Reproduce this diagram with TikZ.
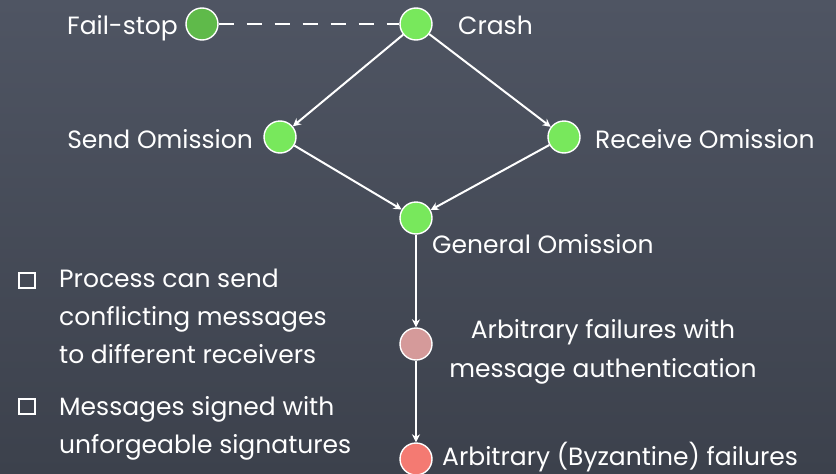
\documentclass[tikz,border=0pt]{standalone}
\usepackage{fontspec}
\setmainfont{Poppins}
\usetikzlibrary{arrows.meta}
\definecolor{boardtop}{HTML}{4F5563}
\definecolor{boardbot}{HTML}{3C414C}
\definecolor{darkgreen}{HTML}{5FBA4A}
\definecolor{litegreen}{HTML}{78E85C}
\definecolor{rosepink}{HTML}{D59A9A}
\definecolor{salmon}{HTML}{F47A72}
\tikzset{
  state/.style={circle, draw=white, line width=1.4pt, minimum size=32pt, inner sep=0pt},
  lbl/.style={text=white, font=\fontsize{25}{25}\selectfont, inner sep=0pt},
  link/.style={draw=white, line width=2pt, -{Stealth[length=8pt,width=8pt]}},
  chalkbox/.style={draw=white, line width=1.6pt},
}
\begin{document}
\begin{tikzpicture}[x=1pt,y=-1pt]
  % chalkboard
  \shade[top color=boardtop, bottom color=boardbot] (0,0) rectangle (836,474);
  \useasboundingbox (0,0) rectangle (836,474);

  % failure-model states
  \node[state, fill=darkgreen] (fs)   at (202,24)  {};
  \node[state, fill=litegreen] (cr)   at (416,24)  {};
  \node[state, fill=litegreen] (so)   at (280,137) {};
  \node[state, fill=litegreen] (ro)   at (564,137) {};
  \node[state, fill=litegreen] (go)   at (416,218) {};
  \node[state, fill=rosepink]  (auth) at (416,344) {};
  \node[state, fill=salmon]    (byz)  at (416,459) {};

  % labels
  \node[lbl, anchor=base east] (tfs) at (178,34)  {Fail-stop};
  \node[lbl, anchor=base west] (tcr) at (458,34)  {Crash};
  \node[lbl, anchor=base east] (tso) at (253,148) {Send Omission};
  \node[lbl, anchor=base west] (tro) at (595,148) {Receive Omission};
  \node[lbl, anchor=base west] (tgo) at (432,253) {General Omission};
  \node[lbl, anchor=base] (tauth1) at (603,338) {Arbitrary failures with};
  \node[lbl, anchor=base] (tauth2) at (603,377) {message authentication};
  \node[lbl, anchor=base west] (tbyz) at (442,465) {Arbitrary (Byzantine) failures};

  % connectors
  \draw[draw=white, line width=2pt, dash pattern=on 15pt off 13pt] (fs) -- (cr);
  \draw[link] (cr) -- (so);
  \draw[link] (cr) -- (ro);
  \draw[link] (so) -- (go);
  \draw[link] (ro) -- (go);
  \draw[link] (go) -- (auth);
  \draw[link] (auth) -- (byz);

  % bullet list
  \draw[chalkbox] (19,273) rectangle (35,288);
  \draw[chalkbox] (19,399) rectangle (35,414);
  \node[lbl, anchor=base west] (b1a) at (59,287) {Process can send};
  \node[lbl, anchor=base west] (b1b) at (59,325) {conflicting messages};
  \node[lbl, anchor=base west] (b1c) at (59,363) {to different receivers};
  \node[lbl, anchor=base west] (b2a) at (59,415) {Messages signed with};
  \node[lbl, anchor=base west] (b2b) at (59,453) {unforgeable signatures};
\end{tikzpicture}
\end{document}
